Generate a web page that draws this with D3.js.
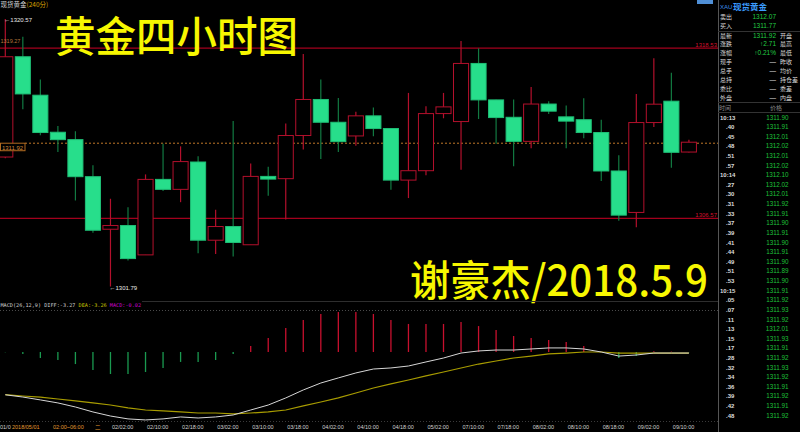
<!DOCTYPE html>
<html><head><meta charset="utf-8">
<script src="https://cdn.jsdelivr.net/npm/d3@7"></script>
<style>html,body{margin:0;padding:0;background:#000;overflow:hidden}svg{display:block}</style>
</head><body>
<script>
// ---- candle data (4-hour XAU) ----
const opens  = [1310.88,1317.92,1315.22,1312.62,1312.10,1309.50,1305.81,1306.07,1304.01,1309.31,
                1308.61,1310.53,1305.04,1306.00,1304.72,1309.52,1309.36,1312.39,1314.92,1313.32,
                1312.36,1313.77,1312.88,1309.26,1309.92,1313.93,1313.37,1317.45,1314.89,1313.67,
                1311.98,1314.60,1313.70,1313.50,1312.60,1309.90,1306.99,1313.30,1314.80,1311.23];
const highs  = [1320.57,1319.33,1316.33,1313.06,1312.69,1310.30,1307.95,1307.36,1309.66,1311.82,
                1311.63,1310.93,1307.18,1313.41,1310.42,1310.20,1313.23,1318.11,1316.33,1315.03,
                1314.05,1314.36,1312.88,1315.38,1314.45,1315.38,1319.02,1318.51,1314.90,1314.92,
                1315.80,1314.80,1314.50,1315.00,1313.50,1311.00,1315.30,1317.81,1316.79,1312.10];
const lows   = [1310.80,1314.24,1312.41,1311.23,1307.83,1305.56,1301.79,1303.61,1304.01,1308.49,
                1307.71,1304.12,1304.08,1303.89,1304.72,1308.16,1306.50,1311.40,1310.74,1311.23,
                1311.68,1312.34,1308.59,1308.00,1309.60,1313.60,1309.99,1313.55,1311.82,1310.23,
                1311.50,1313.90,1311.50,1312.20,1309.20,1306.40,1305.95,1312.99,1310.13,1311.20];
const closes = [1317.92,1315.31,1312.60,1312.10,1309.50,1305.74,1306.07,1303.75,1309.31,1308.61,
                1310.56,1305.04,1306.00,1304.88,1309.52,1309.33,1312.39,1314.92,1313.32,1311.96,
                1313.77,1312.88,1309.26,1309.92,1313.93,1314.40,1317.45,1314.89,1313.65,1311.98,
                1314.60,1314.10,1313.40,1312.60,1309.90,1306.80,1313.30,1314.59,1311.21,1311.92];

// ---- MACD(26,12,9) ----
const diffVals = [-3.27,-3.44,-3.66,-3.89,-4.20,-4.58,-4.89,-5.11,-5.19,-5.11,
                  -4.96,-5.04,-4.96,-4.81,-4.43,-4.05,-3.51,-2.90,-2.37,-1.98,
                  -1.60,-1.30,-1.22,-1.07,-0.76,-0.46,-0.08,0.08,0.15,0.15,
                  0.23,0.31,0.31,0.23,0.00,-0.31,-0.23,-0.08,-0.08,-0.08];
const deaVals  = [-3.26,-3.36,-3.44,-3.59,-3.74,-3.89,-4.05,-4.27,-4.43,-4.50,
                  -4.58,-4.66,-4.66,-4.73,-4.66,-4.58,-4.43,-4.12,-3.82,-3.51,
                  -3.13,-2.75,-2.44,-2.14,-1.83,-1.53,-1.22,-0.92,-0.69,-0.46,
                  -0.31,-0.15,-0.08,0.00,0.00,-0.08,-0.08,-0.08,-0.08,-0.08];
const macdVals = [-0.02,-0.15,-0.46,-0.61,-0.92,-1.37,-1.68,-1.68,-1.53,-1.22,
                  -0.76,-0.76,-0.61,-0.15,0.46,1.07,1.83,2.44,2.90,3.05,
                  3.05,2.90,2.44,2.14,2.14,2.14,2.29,1.98,1.68,1.22,
                  1.07,0.92,0.76,0.46,0.02,-0.46,-0.31,0.05,0.03,-0.02];

// ---- reference levels ----
const refLevels = [1318.53, 1306.57];
const lastPrice = 1311.92;
const highMark = 1320.57, lowMark = 1301.79, leftAxisLabel = "1319.27";

// ---- time axis ----
const tickIdx  = [6,8,10,12,14,16,18,20,22,24,26,28,30,32,34,36,38];
const tickText = ["02/02:00","02/10:00","02/18:00","03/02:00","03/10:00","03/18:00","04/02:00","04/10:00",
                  "04/18:00","05/02:00","07/10:00","07/18:00","08/02:00","08/10:00","08/18:00","09/02:00","09/10:00"];

// ---- quote panel ----
const quoteLabels = ["卖出","买入","最新","涨跌","涨幅","现手","总手","总持","委比","外盘"];
const quoteValues = ["1312.07","1311.77","1311.92","↑2.71","↑0.21%","—","—","—","—","—"];
const quoteRight  = ["","","开盘","最高","最低","昨收","均价","持仓差","委差","内盘"];
const tradeTimes  = ["10:13",".40",".45",".48",".51",".57","10:14",".27",".30",".31",".33",".37",".39",".41",".44",".49",
                     ".51",".53","10:15",".05",".07",".11",".13",".15",".17",".28",".32",".34",".36",".39",".42",".48"];
const tradePrices = ["1311.90","1311.91","1312.01","1312.02","1312.01","1312.02","1312.10","1312.02","1312.01","1311.92",
                     "1311.91","1311.90","1311.91","1311.90","1311.91","1311.90","1311.89","1311.90","1311.91","1311.92",
                     "1311.93","1311.92","1312.01","1311.93","1311.91","1311.92","1311.93","1311.92","1311.91","1311.92",
                     "1311.91","1311.92"];

const W = 800, H = 432;
const RED = "#b3102c", GREEN_FILL = "#27de8b", GREEN_WICK = "#127a42";
const NUM = "'Liberation Sans', Arial, sans-serif", CJK = "'Noto Sans CJK SC', sans-serif";

const svg = d3.select("body").append("svg").attr("width", W).attr("height", H);
svg.append("rect").attr("width", W).attr("height", H).attr("fill", "#000");
const defs = svg.append("defs");
defs.append("clipPath").attr("id", "mainClip").append("rect").attr("x", 0).attr("y", 8).attr("width", 718).attr("height", 290);
defs.append("clipPath").attr("id", "macdClip").append("rect").attr("x", 0).attr("y", 300).attr("width", 718).attr("height", 122);
defs.append("clipPath").attr("id", "leftClip").append("rect").attr("x", 0).attr("y", 0).attr("width", 718).attr("height", H);

const idx = d3.range(opens.length);
const x = d3.scalePoint().domain(idx).range([5.3, 688.9]);
const bodyW = x.step() * 0.86;
const y = d3.scaleLinear().domain([1301.79, 1320.57]).range([286.5, 19]);
const my = d3.scaleLinear().domain([-5.27, 3.97]).range([421, 300]);

const main = svg.append("g").attr("clip-path", "url(#mainClip)");

// reference lines
main.selectAll("line.ref").data(refLevels).join("line").attr("class", "ref")
  .attr("x1", 0).attr("x2", 718).attr("y1", d => y(d)).attr("y2", d => y(d))
  .attr("stroke", "#a3001c").attr("stroke-width", 1.3);
main.selectAll("text.ref").data(refLevels).join("text").attr("class", "ref")
  .attr("x", 717).attr("y", d => y(d) - 1.5).attr("text-anchor", "end")
  .attr("font-family", NUM).attr("font-size", 6).attr("fill", "#d0102c")
  .text(d => d.toFixed(2));

// last price dotted line
main.append("line").attr("x1", 25).attr("x2", 718).attr("y1", y(lastPrice) + 1).attr("y2", y(lastPrice) + 1)
  .attr("stroke", "#c07828").attr("stroke-width", 1).attr("stroke-dasharray", "2,2");

// candles
const cg = main.append("g");
const isUp = i => closes[i] >= opens[i];
cg.selectAll("line.wick").data(idx).join("line").attr("class", "wick")
  .attr("x1", i => x(i)).attr("x2", i => x(i))
  .attr("y1", i => y(highs[i])).attr("y2", i => y(lows[i]))
  .attr("stroke", i => isUp(i) ? RED : GREEN_WICK).attr("stroke-width", 1.2);
cg.selectAll("rect.body").data(idx).join("rect").attr("class", "body")
  .attr("x", i => x(i) - bodyW / 2).attr("width", bodyW)
  .attr("y", i => y(Math.max(opens[i], closes[i])))
  .attr("height", i => Math.max(1.5, Math.abs(y(opens[i]) - y(closes[i]))))
  .attr("fill", i => isUp(i) ? "#000" : GREEN_FILL)
  .attr("stroke", i => isUp(i) ? RED : "#1fbf76").attr("stroke-width", 1);

// extreme markers
const hiIdx = highs.indexOf(highMark), loIdx = lows.indexOf(lowMark);
main.append("text").attr("x", x(hiIdx) - 1).attr("y", y(highMark) + 3)
  .attr("font-family", NUM).attr("font-size", 6).attr("fill", "#e8e8e8").text("←" + highMark.toFixed(2));
main.append("text").attr("x", x(loIdx) - 1).attr("y", y(lowMark) + 3)
  .attr("font-family", NUM).attr("font-size", 6).attr("fill", "#e8e8e8").text("←" + lowMark.toFixed(2));

// left axis fragments
svg.append("text").attr("x", 0.5).attr("y", 43).attr("font-family", NUM).attr("font-size", 5.5)
  .attr("fill", "#b8773a").text(leftAxisLabel);
svg.append("rect").attr("x", 0.5).attr("y", y(lastPrice) + 1).attr("width", 24.5).attr("height", 7.5)
  .attr("fill", "#000").attr("stroke", "#b06a20").attr("stroke-width", 1);
svg.append("text").attr("x", 12.5).attr("y", y(lastPrice) + 7.3).attr("text-anchor", "middle")
  .attr("font-family", NUM).attr("font-size", 6).attr("fill", "#d08a3a").text(lastPrice.toFixed(2));

// top-left title
const tt = svg.append("text").attr("x", 0.5).attr("y", 7).attr("font-family", CJK).attr("font-size", 6.5);
tt.append("tspan").attr("fill", "#d8d8d8").text("现货黄金");
tt.append("tspan").attr("fill", "#d8a000").text("(240分)");
svg.append("rect").attr("x", 697).attr("y", -1).attr("width", 16).attr("height", 5).attr("fill", "#4f8fd6");

// big yellow overlays
svg.append("text").attr("x", 55).attr("y", 52).attr("font-family", CJK).attr("font-weight", 500)
  .attr("font-size", 42).attr("fill", "#f7f700").attr("textLength", 243).attr("lengthAdjust", "spacingAndGlyphs")
  .text("黄金四小时图");
svg.append("text").attr("x", 410).attr("y", 296).attr("font-family", CJK).attr("font-weight", 500)
  .attr("font-size", 42).attr("fill", "#f7f700").attr("textLength", 298).attr("lengthAdjust", "spacingAndGlyphs")
  .text("谢豪杰/2018.5.9");

// ---- MACD panel ----
svg.append("line").attr("x1", 142).attr("x2", 718).attr("y1", 301.5).attr("y2", 301.5).attr("stroke", "#2e2e2e");
svg.append("line").attr("x1", 0).attr("x2", 718).attr("y1", 310.5).attr("y2", 310.5)
  .attr("stroke", "#4a4a4a").attr("stroke-dasharray", "1,2");
svg.append("line").attr("x1", 0).attr("x2", 718).attr("y1", 421.5).attr("y2", 421.5)
  .attr("stroke", "#3a3a3a").attr("stroke-dasharray", "1,2");
const mt = svg.append("text").attr("x", 0.5).attr("y", 307)
  .attr("font-family", "'DejaVu Sans Mono', monospace").attr("font-size", 5.2);
mt.append("tspan").attr("fill", "#cfcfcf").text("MACD(26,12,9) DIFF:" + diffVals[0].toFixed(2) + " ");
mt.append("tspan").attr("fill", "#c8c400").text("DEA:" + deaVals[0].toFixed(2) + " ");
mt.append("tspan").attr("fill", "#d000d0").text("MACD:" + macdVals[0].toFixed(2));

const mg = svg.append("g").attr("clip-path", "url(#macdClip)");
mg.selectAll("line.bar").data(idx).join("line").attr("class", "bar")
  .attr("x1", i => x(i)).attr("x2", i => x(i))
  .attr("y1", my(0)).attr("y2", i => my(macdVals[i]))
  .attr("stroke", i => macdVals[i] >= 0 ? "#c8102e" : "#1a9a50").attr("stroke-width", 1.3);
const lineGen = vals => d3.line().x(i => x(i)).y(i => my(vals[i]))(idx);
mg.append("path").attr("d", lineGen(deaVals)).attr("fill", "none").attr("stroke", "#a89c00").attr("stroke-width", 1.2);
mg.append("path").attr("d", lineGen(diffVals)).attr("fill", "none").attr("stroke", "#d6d6d6").attr("stroke-width", 1);

// ---- time axis ----
const ta = svg.append("g").attr("clip-path", "url(#leftClip)").attr("font-family", NUM).attr("font-size", 5.5);
ta.selectAll("text.tick").data(tickIdx).join("text").attr("class", "tick")
  .attr("x", i => x(i) + 1.5).attr("y", 429).attr("fill", "#d2d2d2")
  .text((d, k) => tickText[k]);
ta.append("text").attr("x", 0).attr("y", 429).attr("fill", "#d2d2d2").text("01/0");
ta.append("text").attr("x", 12).attr("y", 429).attr("fill", "#e09a30").text("2018/05/01");
ta.append("text").attr("x", 53).attr("y", 429).attr("fill", "#e09a30").text("02:00~06:00");
ta.append("text").attr("x", 95).attr("y", 429).attr("fill", "#e09a30").attr("font-family", CJK).text("二");

// ---- right quote panel ----
const rp = svg.append("g");
rp.append("line").attr("x1", 718.5).attr("x2", 718.5).attr("y1", 0).attr("y2", H).attr("stroke", "#555");
[31.5, 102.5, 112.5].forEach(yy =>
  rp.append("line").attr("x1", 718).attr("x2", 800).attr("y1", yy).attr("y2", yy).attr("stroke", "#333"));
rp.append("text").attr("x", 720).attr("y", 9).attr("font-family", NUM).attr("font-size", 6).attr("fill", "#3b8ee8").text("XAU");
rp.append("text").attr("x", 733).attr("y", 10).attr("font-family", CJK).attr("font-weight", 700)
  .attr("font-size", 8.5).attr("fill", "#3b9cff").text("现货黄金");
const rowY = k => k < 2 ? 19 + k * 9 : 37.5 + (k - 2) * 8.9;
rp.selectAll("text.ql").data(quoteLabels).join("text").attr("class", "ql")
  .attr("x", 720).attr("y", (d, k) => rowY(k)).attr("font-family", CJK).attr("font-size", 6)
  .attr("fill", "#d8d8d8").text(d => d);
rp.selectAll("text.qv").data(quoteValues).join("text").attr("class", "qv")
  .attr("x", 776).attr("y", (d, k) => rowY(k)).attr("text-anchor", "end")
  .attr("font-family", NUM).attr("font-size", 6.5)
  .attr("fill", d => d === "—" ? "#e0e0e0" : "#22cc44").text(d => d);
rp.selectAll("text.qr").data(quoteRight).join("text").attr("class", "qr")
  .attr("x", 780).attr("y", (d, k) => rowY(k)).attr("font-family", CJK).attr("font-size", 6)
  .attr("fill", "#d8d8d8").text(d => d);
rp.append("text").attr("x", 719).attr("y", 110).attr("font-family", CJK).attr("font-size", 6).attr("fill", "#8c8c8c").text("时间");
rp.append("text").attr("x", 770).attr("y", 110).attr("font-family", CJK).attr("font-size", 6).attr("fill", "#8c8c8c").text("价格");
const listY = k => 119.5 + k * 9.62;
rp.selectAll("text.tt").data(tradeTimes).join("text").attr("class", "tt")
  .attr("x", d => d.startsWith(".") ? 726 : 720).attr("y", (d, k) => listY(k))
  .attr("font-family", NUM).attr("font-size", 6).attr("font-weight", 700).attr("fill", "#dcdcdc").text(d => d);
rp.selectAll("text.tp").data(tradePrices).join("text").attr("class", "tp")
  .attr("x", 788.5).attr("y", (d, k) => listY(k)).attr("text-anchor", "end")
  .attr("font-family", NUM).attr("font-size", 6.3).attr("fill", "#1fc03a").text(d => d);
</script>
</body></html>
